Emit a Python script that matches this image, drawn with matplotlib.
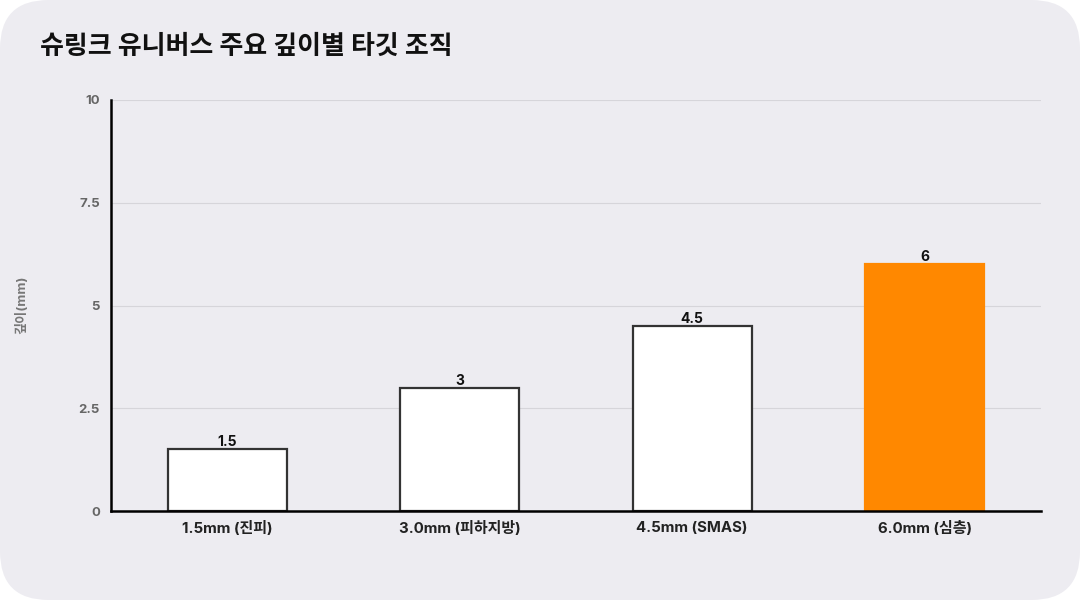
import matplotlib
matplotlib.use("Agg")
import matplotlib.pyplot as plt
from matplotlib.patches import FancyBboxPatch

plt.rcParams['font.family'] = ['Inter', 'Noto Sans CJK KR', 'DejaVu Sans']

title = "슈링크 유니버스 주요 깊이별 타깃 조직"
categories = ["1.5mm (진피)", "3.0mm (피하지방)", "4.5mm (SMAS)", "6.0mm (심층)"]
values = [1.5, 3, 4.5, 6]
value_labels = ["1.5", "3", "4.5", "6"]
y_ticks = [0, 2.5, 5, 7.5, 10]
y_tick_labels = ["0", "2.5", "5", "7.5", "10"]
y_label = "깊이(mm)"
bar_colors = ["#FFFFFF", "#FFFFFF", "#FFFFFF", "#FF8800"]
edge_colors = ["#333333", "#333333", "#333333", "#FF8800"]

W, H = 1080, 600
fig = plt.figure(figsize=(W / 100, H / 100), dpi=100)
fig.patch.set_facecolor("#FFFFFF")
card = FancyBboxPatch((0, 0), 1, 1, boxstyle="round,pad=0,rounding_size=0.045",
                      transform=fig.transFigure, facecolor="#EDECF1", edgecolor="none",
                      mutation_aspect=W / H, zorder=-10)
fig.patches.append(card)

left, right, top, bottom = 111, 1041, 100, 511
ax = fig.add_axes([left / W, 1 - bottom / H, (right - left) / W, (bottom - top) / H])
ax.set_facecolor("none")
ax.set_zorder(1)

x = list(range(len(categories)))
bars = ax.bar(x, values, width=0.512, color=bar_colors, edgecolor=edge_colors, linewidth=1.6, zorder=3)
for xi, v, lab in zip(x, values, value_labels):
    ax.text(xi, v, lab, ha="center", va="bottom", fontsize=10, fontweight="bold",
            color="#111111", zorder=4)

ax.set_xlim(-0.5, 3.5)
ax.set_ylim(0, 10)
ax.set_yticks(y_ticks)
ax.set_yticklabels(y_tick_labels)
ax.set_xticks(x)
ax.set_xticklabels(categories)
ax.tick_params(axis="y", length=0, pad=8, labelsize=9.5, labelcolor="#666666")
ax.tick_params(axis="x", length=0, pad=7, labelsize=10.8, labelcolor="#222222")
for lab in ax.get_yticklabels() + ax.get_xticklabels():
    lab.set_fontweight("bold")
ax.grid(axis="y", color="#D6D5DA", linewidth=0.8, zorder=0)
for s in ["top", "right"]:
    ax.spines[s].set_visible(False)
ax.spines["left"].set_color("#000000")
ax.spines["bottom"].set_color("#000000")
ax.spines["left"].set_linewidth(1.8)
ax.spines["bottom"].set_linewidth(1.8)
ax.spines["left"].set_zorder(5)
ax.spines["bottom"].set_zorder(5)

fig.text(40 / W, 1 - 47 / H, title, fontsize=18.7, fontweight="bold", color="#111111",
         ha="left", va="center")
fig.text(22 / W, 1 - 305 / H, y_label, fontsize=9.5, fontweight="bold", color="#777777",
         rotation=90, ha="center", va="center")

fig.savefig("out.png", dpi=100, facecolor=fig.get_facecolor())
